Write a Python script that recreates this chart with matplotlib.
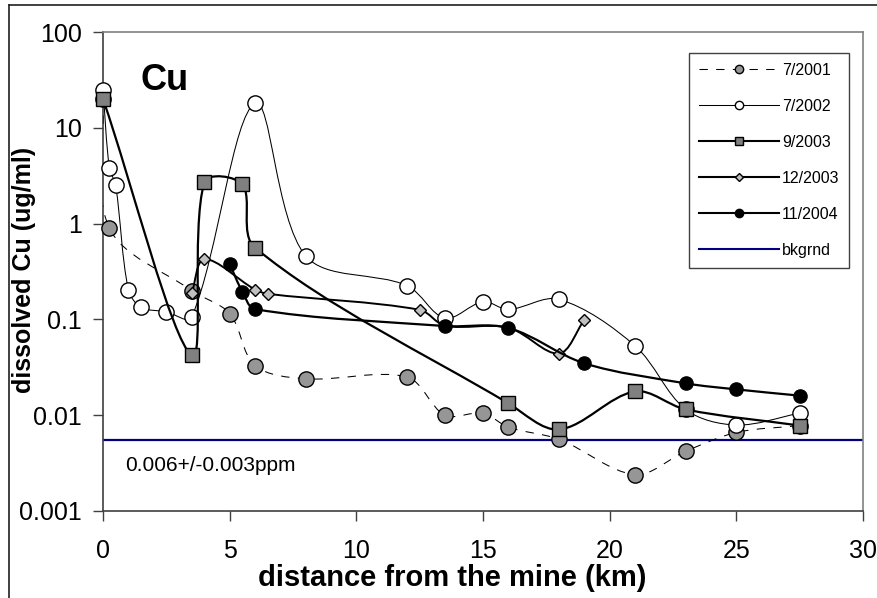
import matplotlib
matplotlib.use('Agg')
import matplotlib.pyplot as plt
from matplotlib.path import Path
from matplotlib.patches import PathPatch
from matplotlib.lines import Line2D
import numpy as np

plt.rcParams['font.family'] = ['Liberation Sans', 'DejaVu Sans']

# dissolved Cu (ug/ml) versus distance from the mine (km)
x_2001 = [0, 0.25, 3.5, 5, 6, 8, 12, 13.5, 15, 16, 18, 21, 23, 25, 27.5]
y_2001 = [20, 0.9, 0.2, 0.115, 0.033, 0.024, 0.025, 0.010, 0.0105, 0.0075,
          0.0056, 0.0024, 0.0042, 0.0066, 0.0078]

x_2002 = [0, 0.25, 0.5, 1, 1.5, 2.5, 3.5, 6, 8, 12, 13.5, 15, 16, 18, 21,
          23, 25, 27.5]
y_2002 = [24.8, 3.85, 2.5, 0.205, 0.134, 0.12, 0.105, 18, 0.46, 0.225, 0.103,
          0.153, 0.127, 0.162, 0.053, 0.0115, 0.0079, 0.0105]

x_sep2003 = [0, 3.5, 4, 5.5, 6, 16, 18, 21, 23, 27.5]
y_sep2003 = [20, 0.042, 2.7, 2.57, 0.56, 0.0133, 0.0071, 0.0177, 0.0115, 0.0078]

x_dec2003 = [3.5, 4, 6, 6.5, 12.5, 13.5, 16, 18, 19]
y_dec2003 = [0.187, 0.425, 0.205, 0.185, 0.126, 0.086, 0.082, 0.044, 0.099]

x_2004 = [5, 5.5, 6, 13.5, 16, 19, 23, 25, 27.5]
y_2004 = [0.378, 0.195, 0.128, 0.0853, 0.0815, 0.0348, 0.0215, 0.0186, 0.016]

bkgrnd = 0.0055
labels = ['7/2001', '7/2002', '9/2003', '12/2003', '11/2004', 'bkgrnd']
x_ticks = [0, 5, 10, 15, 20, 25, 30]
y_ticks = [0.001, 0.01, 0.1, 1, 10, 100]
y_ticklabels = ['0.001', '0.01', '0.1', '1', '10', '100']

# pixels per km and per decade, used so the smoothing is done in screen space
KX, KY = 25.33, 95.8


def smooth_path(xs, ys):
    # smoothed line like excel: bezier with tangents scaled by chord length
    px = np.array(xs, dtype=float) * KX
    py = np.log10(np.array(ys, dtype=float)) * KY
    n = len(px)
    pts = np.column_stack([px, py])
    d = np.hypot(np.diff(px), np.diff(py))
    verts = [tuple(pts[0])]
    codes = [Path.MOVETO]
    for i in range(n - 1):
        i0 = max(i - 1, 0)
        i3 = min(i + 2, n - 1)
        d_prev = d[i - 1] if i > 0 else 0.0
        d_next = d[i + 1] if i + 2 < n else 0.0
        c1 = pts[i] + (pts[i + 1] - pts[i0]) * d[i] / (3 * (d_prev + d[i]))
        c2 = pts[i + 1] - (pts[i3] - pts[i]) * d[i] / (3 * (d[i] + d_next))
        verts += [tuple(c1), tuple(c2), tuple(pts[i + 1])]
        codes += [Path.CURVE4] * 3
    verts = [(vx / KX, 10 ** (vy / KY)) for vx, vy in verts]
    return Path(verts, codes)


fig = plt.figure(figsize=(8.78, 5.98), dpi=100)
ax = fig.add_axes([103 / 878, 1 - 511 / 598, 760 / 878, 479 / 598])
ax.set_yscale('log')

series = [
    (x_2001, y_2001, dict(lw=0.75, ls=(0, (8, 8))), dict(marker='o', ms=11, mfc='#969696')),
    (x_2002, y_2002, dict(lw=0.75, ls='-'), dict(marker='o', ms=11, mfc='white')),
    (x_sep2003, y_sep2003, dict(lw=1.6, ls='-'), dict(marker='s', ms=9.5, mfc='#808080')),
    (x_dec2003, y_dec2003, dict(lw=1.4, ls='-'), dict(marker='D', ms=6.5, mfc='#c0c0c0')),
    (x_2004, y_2004, dict(lw=1.6, ls='-'), dict(marker='o', ms=9.5, mfc='black')),
]

z = 3
for xs, ys, lstyle, mstyle in series:
    patch = PathPatch(smooth_path(xs, ys), fill=False, edgecolor='black',
                      linewidth=lstyle['lw'], linestyle=lstyle['ls'], zorder=z)
    ax.add_patch(patch)
    ax.plot(xs, ys, ls='none', mec='black', mew=1.0, clip_on=False, zorder=z + 0.5, **mstyle)
    z += 1

ax.axhline(bkgrnd, color='#000080', lw=1.6, zorder=2)

ax.set_xlim(0, 30)
ax.set_ylim(0.001, 100)
ax.set_xticks(x_ticks)
ax.set_xticklabels([str(t) for t in x_ticks])
ax.set_yticks(y_ticks)
ax.set_yticklabels(y_ticklabels)
ax.minorticks_off()
ax.tick_params(axis='both', direction='out', length=7, width=1, labelsize=18, color='#404040')
ax.tick_params(axis='x', pad=13)
ax.tick_params(axis='y', pad=8)

for side in ['left', 'bottom']:
    ax.spines[side].set_color('#404040')
    ax.spines[side].set_linewidth(1.2)
for side in ['top', 'right']:
    ax.spines[side].set_color('#808080')
    ax.spines[side].set_linewidth(1.2)

ax.text(0.049, 0.879, 'Cu', transform=ax.transAxes, fontsize=26, fontweight='bold',
        va='baseline', ha='left')
ax.text(0.029, 0.096, '0.006+/-0.003ppm', transform=ax.transAxes, fontsize=15,
        va='center', ha='left')

fig.text(452 / 878, 1 - 578 / 598, 'distance from the mine (km)', fontsize=21,
         fontweight='bold', ha='center', va='center')
fig.text(24 / 878, 1 - 270 / 598, 'dissolved Cu (ug/ml)', fontsize=18,
         fontweight='bold', ha='center', va='center', rotation=90)

handles = [
    Line2D([], [], color='black', lw=0.75, ls=(0, (8, 8)), marker='o', ms=6, mfc='#969696', mec='black'),
    Line2D([], [], color='black', lw=0.75, marker='o', ms=6, mfc='white', mec='black'),
    Line2D([], [], color='black', lw=1.5, marker='s', ms=5.5, mfc='#808080', mec='black'),
    Line2D([], [], color='black', lw=1.5, marker='D', ms=4, mfc='#c0c0c0', mec='black'),
    Line2D([], [], color='black', lw=1.5, marker='o', ms=6, mfc='black', mec='black'),
    Line2D([], [], color='#000080', lw=1.5),
]
leg = fig.legend(handles, labels, loc='upper right', bbox_to_anchor=(849 / 878, 1 - 53 / 598),
                 fontsize=11.5, handlelength=5.0, handletextpad=0.2, labelspacing=1.32,
                 borderpad=0.6, borderaxespad=0, fancybox=False, framealpha=1)
leg.get_frame().set_edgecolor('#404040')
leg.get_frame().set_linewidth(1.0)

# outer chart border
fig.add_artist(Line2D([8.5 / 878, 8.5 / 878], [0, 1 - 5 / 598], color='#202020', lw=1.2))
fig.add_artist(Line2D([8.5 / 878, 1], [1 - 5 / 598, 1 - 5 / 598], color='#202020', lw=1.2))

fig.savefig('out.png', dpi=100)
